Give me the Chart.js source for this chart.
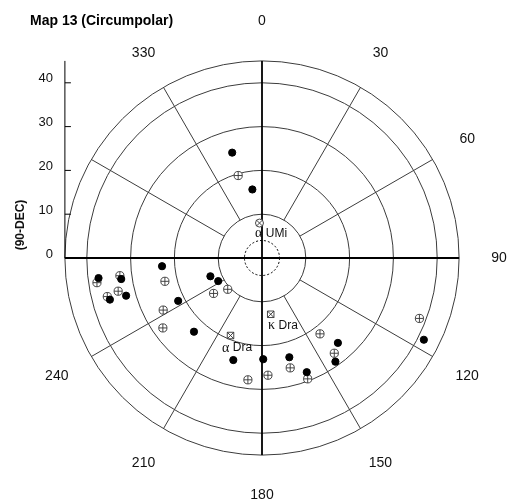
<!DOCTYPE html>
<html>
<head>
<meta charset="utf-8">
<script src="https://cdn.jsdelivr.net/npm/chart.js@4.4.1/dist/chart.umd.min.js"></script>
<style>
  html, body { margin: 0; padding: 0; background: #fff; }
</style>
</head>
<body>
<canvas id="mapChart" width="514" height="499"></canvas>
<script>
// star positions: angle in degrees (0 at top, clockwise) and 90-DEC
var filledAngle = [263.0, 261.5, 254.7, 254.5, 265.3, 242.9, 222.7, 250.5, 242.2,
                   195.7, 179.3, 164.6, 158.6, 138.2, 144.7, 116.8, 344.2, 352.0];
var filledR     = [37.6, 32.5, 36.0, 32.2, 22.9, 21.5, 22.9, 12.5, 11.3,
                   24.2, 23.1, 23.5, 28.0, 26.0, 29.0, 41.4, 25.0, 15.8];

var openAngle = [261.5, 262.9, 257.0, 256.0, 256.5, 242.2, 234.8, 233.8, 227.6,
                 186.6, 177.1, 165.6, 159.3, 142.6, 142.8, 111.0, 343.9];
var openR     = [38.1, 32.7, 33.7, 36.4, 22.8, 25.5, 27.7, 13.7, 10.6,
                 28.0, 26.8, 25.9, 29.5, 21.8, 27.3, 38.5, 19.6];

var namedGreek = ['\u03B1', '\u03B1', '\u03BA'];
var namedStar  = ['UMi', 'Dra', 'Dra'];
var namedAngle = [355.9, 202.1, 171.2];
var namedR     = [8.0, 19.1, 13.0];

var ringValues  = [10, 20, 30, 40, 45];
var spokeAngles = [30, 60, 120, 150, 210, 240, 300, 330];
var angleLabels = ['0', '30', '60', '90', '120', '150', '180', '210', '240', '330'];
var yTicks      = [0, 10, 20, 30, 40];
var innerDashed = 4;
var maxR = 45;

var SANS = 'Arial, "Liberation Sans", sans-serif';
var SERIF = '"Times New Roman", "Liberation Serif", serif';

function toXY(angles, radii) {
  return angles.map(function (a, i) {
    var t = a * Math.PI / 180;
    return { x: radii[i] * Math.sin(t), y: radii[i] * Math.cos(t) };
  });
}

var filledPts = toXY(filledAngle, filledR);
var openPts = toXY(openAngle, openR);
var namedPts = toXY(namedAngle, namedR);

var polarGrid = {
  id: 'polarGrid',
  beforeDatasetsDraw: function (chart) {
    var ctx = chart.ctx, xs = chart.scales.x, ys = chart.scales.y;
    var cx = xs.getPixelForValue(0), cy = ys.getPixelForValue(0);
    var unit = xs.getPixelForValue(1) - cx;
    function px(a, r) {
      var t = a * Math.PI / 180;
      return [xs.getPixelForValue(r * Math.sin(t)), ys.getPixelForValue(r * Math.cos(t))];
    }
    ctx.save();

    // title
    ctx.fillStyle = '#000';
    ctx.font = 'bold 14px ' + SANS;
    ctx.textAlign = 'left';
    ctx.textBaseline = 'middle';
    ctx.fillText('Map 13 (Circumpolar)', 30, 21);

    // rings
    ctx.strokeStyle = '#3c3c3c';
    ctx.lineWidth = 1;
    ringValues.forEach(function (r) {
      ctx.beginPath();
      ctx.arc(cx, cy, r * unit, 0, 2 * Math.PI);
      ctx.stroke();
    });

    // spokes
    spokeAngles.forEach(function (a) {
      var p0 = px(a, ringValues[0]), p1 = px(a, maxR);
      ctx.beginPath();
      ctx.moveTo(p0[0], p0[1]);
      ctx.lineTo(p1[0], p1[1]);
      ctx.stroke();
    });

    // dotted inner circle
    ctx.setLineDash([2, 2]);
    ctx.strokeStyle = '#000';
    ctx.beginPath();
    ctx.arc(cx, cy, innerDashed * unit, 0, 2 * Math.PI);
    ctx.stroke();
    ctx.setLineDash([]);

    // main axes
    ctx.lineWidth = 1.8;
    ctx.strokeStyle = '#000';
    ctx.beginPath();
    ctx.moveTo(cx, ys.getPixelForValue(maxR));
    ctx.lineTo(cx, ys.getPixelForValue(-maxR));
    ctx.moveTo(xs.getPixelForValue(-maxR), cy);
    ctx.lineTo(xs.getPixelForValue(maxR), cy);
    ctx.stroke();

    // angle labels
    ctx.fillStyle = '#111';
    ctx.font = '14px ' + SANS;
    ctx.textAlign = 'center';
    angleLabels.forEach(function (lab) {
      var p = px(+lab, 54.1);
      ctx.fillText(lab, p[0], p[1]);
    });

    // left radial axis
    var ax = xs.getPixelForValue(-maxR);
    ctx.lineWidth = 1;
    ctx.beginPath();
    ctx.moveTo(ax, ys.getPixelForValue(0));
    ctx.lineTo(ax, ys.getPixelForValue(maxR));
    ctx.stroke();
    ctx.font = '13px ' + SANS;
    ctx.textAlign = 'right';
    yTicks.forEach(function (v) {
      var y = ys.getPixelForValue(v);
      ctx.beginPath();
      ctx.moveTo(ax, y);
      ctx.lineTo(ax + 6, y);
      ctx.stroke();
      ctx.fillText(String(v), ax - 12, y - 4);
    });

    // axis title
    ctx.save();
    ctx.translate(21, 225);
    ctx.rotate(-Math.PI / 2);
    ctx.font = 'bold 12px ' + SANS;
    ctx.textAlign = 'center';
    ctx.fillText('(90-DEC)', 0, 0);
    ctx.restore();

    ctx.restore();
  },
  afterDatasetsDraw: function (chart) {
    var ctx = chart.ctx, xs = chart.scales.x, ys = chart.scales.y;
    var offs = [[-4.5, 10.5], [-8.5, 12.5], [-2.7, 11]];
    ctx.save();
    ctx.fillStyle = '#111';
    ctx.textBaseline = 'middle';
    ctx.textAlign = 'left';
    namedPts.forEach(function (p, i) {
      var x = xs.getPixelForValue(p.x) + offs[i][0];
      var y = ys.getPixelForValue(p.y) + offs[i][1];
      ctx.font = '14px ' + SERIF;
      ctx.fillText(namedGreek[i], x, y);
      var w = ctx.measureText(namedGreek[i] + ' ').width;
      ctx.font = '12px ' + SANS;
      ctx.fillText(namedStar[i], x + w, y);
    });
    ctx.restore();
  }
};

new Chart(document.getElementById('mapChart'), {
  type: 'scatter',
  data: {
    datasets: [
      {
        label: 'filled',
        data: filledPts,
        order: 0,
        pointStyle: 'circle',
        pointRadius: 3.6,
        pointBorderWidth: 1,
        backgroundColor: '#000',
        borderColor: '#000'
      },
      {
        label: 'open-cross',
        data: openPts,
        order: 1,
        pointStyle: 'cross',
        pointRadius: 4,
        pointBorderWidth: 0.9,
        borderColor: '#333'
      },
      {
        label: 'open',
        data: openPts,
        order: 2,
        pointStyle: 'circle',
        pointRadius: 4.1,
        pointBorderWidth: 0.9,
        backgroundColor: '#fff',
        borderColor: '#333'
      },
      {
        label: 'named-x',
        data: namedPts,
        order: 1,
        pointStyle: 'crossRot',
        pointRadius: [4, 4.6, 4.6],
        pointBorderWidth: 0.9,
        borderColor: '#333'
      },
      {
        label: 'named',
        data: namedPts,
        order: 2,
        pointStyle: ['circle', 'rect', 'rect'],
        pointRadius: [4, 4.6, 4.6],
        pointBorderWidth: 0.9,
        backgroundColor: '#fff',
        borderColor: '#333'
      }
    ]
  },
  options: {
    responsive: false,
    animation: false,
    layout: { padding: { left: 64.9, right: 54.9, top: 60.9, bottom: 43.9 } },
    scales: {
      x: { type: 'linear', min: -maxR, max: maxR, display: false },
      y: { type: 'linear', min: -maxR, max: maxR, display: false }
    },
    plugins: {
      legend: { display: false },
      tooltip: { enabled: false }
    }
  },
  plugins: [polarGrid]
});
</script>
</body>
</html>
